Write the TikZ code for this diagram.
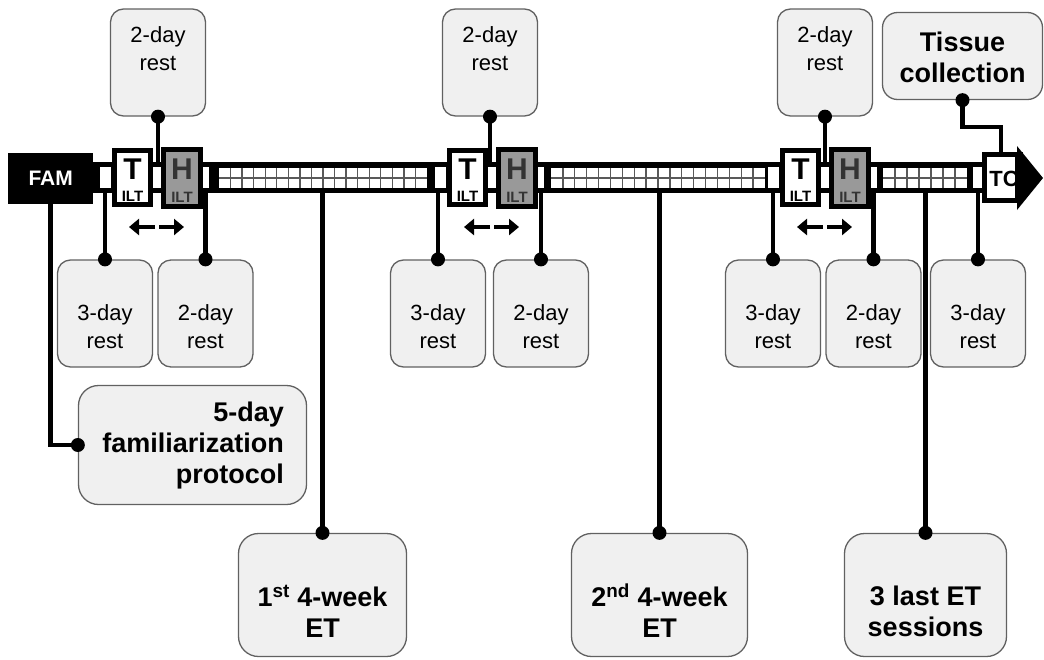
\documentclass[tikz,border=0pt]{standalone}
\usepackage{fontspec}
\setmainfont{Liberation Sans}
\usetikzlibrary{arrows.meta}
\begin{document}
\begin{tikzpicture}[x=1pt,y=-1pt,
  boxfill/.style={draw=black!62, line width=1.3pt, fill=black!6, inner sep=0pt},
  rest/.style={boxfill, rounded corners=13pt, minimum width=95pt, minimum height=107pt},
  bigbox/.style={boxfill, rounded corners=20pt},
  rtext/.style={font=\fontsize{22}{28}\selectfont, align=center, inner sep=0pt},
  btext/.style={font=\bfseries\fontsize{27}{31}\selectfont, align=center, inner sep=0pt},
  conn/.style={line width=4.5pt, draw=black},
  dot/.style={fill=black},
  tbox/.style={draw=black, line width=5pt, fill=white, minimum width=36pt, minimum height=54pt, inner sep=0pt},
  hbox/.style={draw=black, line width=5pt, fill=black!40, minimum width=37pt, minimum height=57pt, inner sep=0pt},
  bigletter/.style={font=\bfseries\fontsize{30}{30}\selectfont, inner sep=0pt},
  ilt/.style={font=\bfseries\fontsize{15}{15}\selectfont, inner sep=0pt},
  dblarrow/.style={line width=4.5pt, -{Triangle[width=16pt,length=10pt]}},
  gridline/.style={draw=black!65, line width=1.4pt},
]
\useasboundingbox (0,0) rectangle (1044,659);

% main bar and FAM
\node[fill=black, minimum width=925pt, minimum height=31pt, inner sep=0pt, anchor=north west] (bar) at (93,162) {};
\node[fill=black, minimum width=85pt, minimum height=51pt, inner sep=0pt, anchor=north west,
      text=white, font=\bfseries\fontsize{21}{21}\selectfont] (fam) at (8,153) {FAM};

% test groups
\foreach \g/\n in {112/1, 447/2, 780/3}{
  \fill[white] (\g-12,167) rectangle (\g-1,188);
  \fill[white] (\g+41,167) rectangle (\g+49,188);
  \fill[white] (\g+91,167) rectangle (\g+97,188);
  \node[tbox] (T\n) at (\g+20.5,177.5) {};
  \node[hbox] (H\n) at (\g+70,177.5) {};
  \node[bigletter] (Tl\n) at (\g+20.5,169) {T};
  \node[ilt] (Ti\n) at (\g+20.5,196) {ILT};
  \node[bigletter, text=black!80] (Hl\n) at (\g+70,169) {H};
  \node[ilt, text=black!80] (Hi\n) at (\g+70,197) {ILT};
  \coordinate (al\n) at (\g+43,227);
  \coordinate (alt\n) at (\g+17,227);
  \coordinate (ar\n) at (\g+47,227);
  \coordinate (art\n) at (\g+72,227);
  \draw[dblarrow] (al\n) -- (alt\n);
  \draw[dblarrow] (ar\n) -- (art\n);
}

% ET grids
\foreach \s/\e/\k in {219/427/18, 551/765/18, 883/967/7}{
  \fill[white] (\s,168) rectangle (\e,188);
  \draw[gridline] (\s,178) -- (\e,178);
  \pgfmathtruncatemacro{\km}{\k-1}
  \foreach \i in {1,...,\km}{
    \draw[gridline] ({\s+\i*(\e-\s)/\k},168) -- ({\s+\i*(\e-\s)/\k},188);
  }
}

% TC and arrow head
\fill[white] (973,167) rectangle (982,188);
\node[draw=black, line width=5pt, fill=white, minimum width=33pt, minimum height=46pt, inner sep=0pt] (tc) at (1001,177.5) {};
\node[font=\bfseries\fontsize{22}{22}\selectfont, inner sep=0pt] (tct) at (1004,179) {TC};
\draw[line width=5pt] (tc.north east) -- (tc.south east);
\fill (1017,146) -- (1043,178) -- (1017,210) -- cycle;

% top rest boxes
\node[rest] (t1) at (158,62.5) {};
\node[rest] (t2) at (490,62.5) {};
\node[rest] (t3) at (825,62.5) {};
\node[rtext] (t1x) at (158,49) {2-day\\rest};
\node[rtext] (t2x) at (490,49) {2-day\\rest};
\node[rtext] (t3x) at (825,49) {2-day\\rest};

% tissue collection
\node[boxfill, rounded corners=15pt, minimum width=160pt, minimum height=87pt] (tis) at (962.5,56) {};
\node[btext] (tisx) at (962.5,57) {Tissue\\collection};

% bottom rest boxes
\node[rest] (b1) at (105,313.5) {};
\node[rest] (b2) at (205.5,313.5) {};
\node[rest] (b3) at (438,313.5) {};
\node[rest] (b4) at (541,313.5) {};
\node[rest] (b5) at (773,313.5) {};
\node[rest] (b6) at (873.5,313.5) {};
\node[rest] (b7) at (978,313.5) {};
\node[rtext] (b1x) at (105,327) {3-day\\rest};
\node[rtext] (b2x) at (205.5,327) {2-day\\rest};
\node[rtext] (b3x) at (438,327) {3-day\\rest};
\node[rtext] (b4x) at (541,327) {2-day\\rest};
\node[rtext] (b5x) at (773,327) {3-day\\rest};
\node[rtext] (b6x) at (873.5,327) {2-day\\rest};
\node[rtext] (b7x) at (978,327) {3-day\\rest};

% familiarization box
\node[bigbox, minimum width=228pt, minimum height=119pt] (famb) at (192.5,445) {};
\node[btext, align=right, anchor=east] (fambx) at (284,446) {5-day\\familiarization\\protocol};

% ET boxes
\node[bigbox, minimum width=168pt, minimum height=123pt] (e1) at (322.5,595) {};
\node[bigbox, minimum width=176pt, minimum height=123pt] (e2) at (659.5,595) {};
\node[bigbox, minimum width=162pt, minimum height=123pt] (e3) at (925.5,595) {};
\node[btext] (e1x) at (322.5,611) {1\textsuperscript{st} 4-week\\ET};
\node[btext] (e2x) at (659.5,611) {2\textsuperscript{nd} 4-week\\ET};
\node[btext] (e3x) at (925.5,611) {3 last ET\\sessions};

% connectors
\draw[conn] (fam.south) |- (famb.west);
\foreach \t in {t1,t2,t3}{
  \draw[conn] (\t.south) -- (\t.south |- bar.north);
}
\foreach \b in {b1,b2,b3,b4,b5,b6,b7,e1,e2,e3}{
  \draw[conn] (bar.south -| \b.north) -- (\b.north);
}
\draw[conn] (tis.south) -- ++(0,27) -| (tc.north);

% dots
\foreach \p in {famb.west,t1.south,t2.south,t3.south,tis.south,b1.north,b2.north,b3.north,b4.north,b5.north,b6.north,b7.north,e1.north,e2.north,e3.north}{
  \fill[dot] (\p) circle (7pt);
}
\end{tikzpicture}
\end{document}
